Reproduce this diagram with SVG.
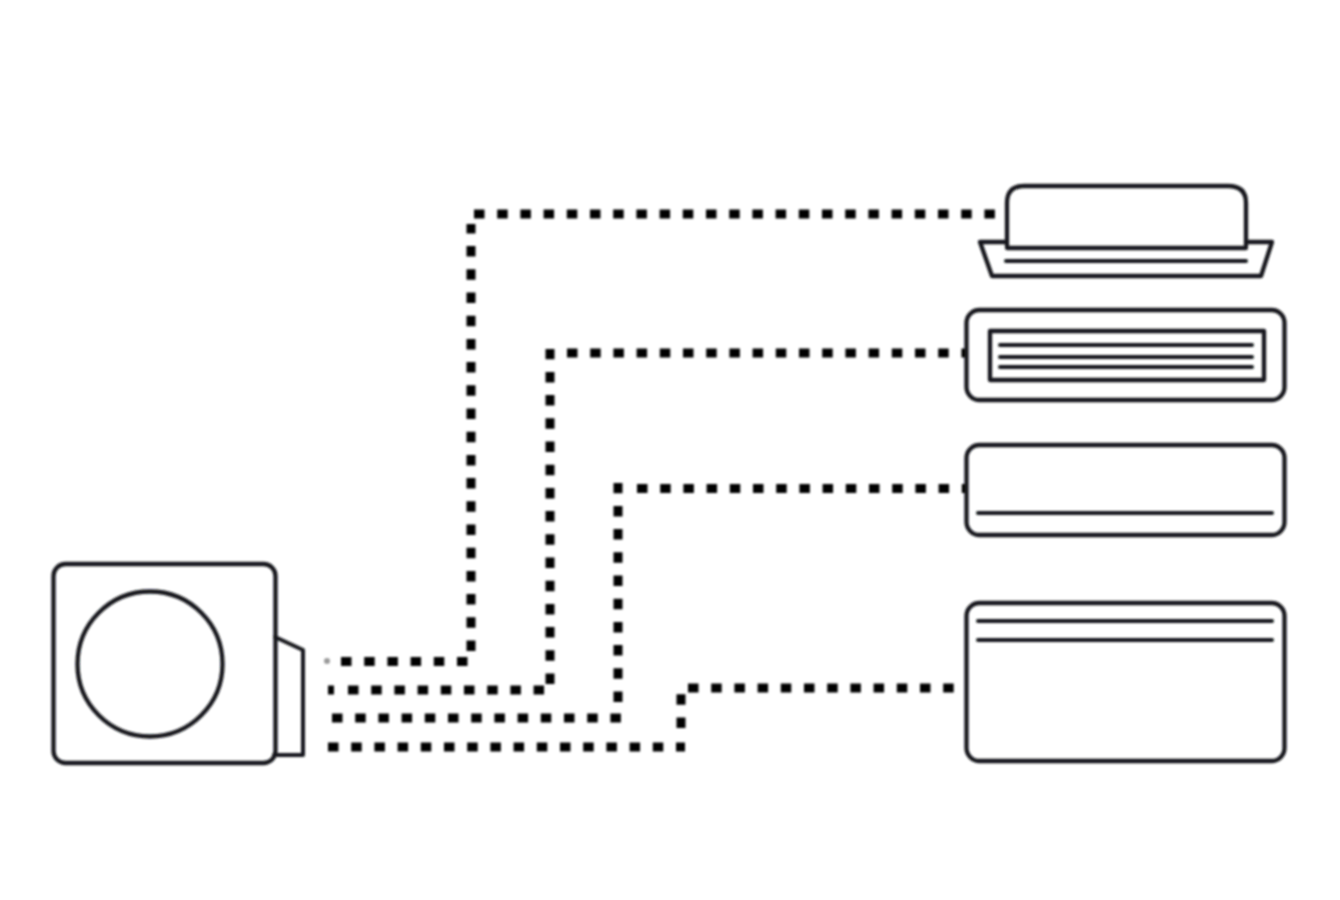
<svg xmlns="http://www.w3.org/2000/svg" width="1340" height="900" viewBox="0 0 1340 900">
<defs>
<filter id="soft" x="0" y="0" width="1340" height="900" filterUnits="userSpaceOnUse"><feGaussianBlur stdDeviation="0.8"/></filter>
</defs>
<style>
.l{fill:none;stroke:#14171b;stroke-width:4.300;stroke-linejoin:round;stroke-linecap:round}
.t{stroke-width:4}
.d{fill:none;stroke:#000;stroke-width:9;stroke-dasharray:10.500 12.700}
</style>
<rect width="1340" height="900" fill="#fff"/>
<g filter="url(#soft)">
<g id="connectors">
<circle cx="327" cy="661" r="3" fill="#999"/>
<path class="d" d="M341 661.500H470M471 651V224M474 214H998"/>
<path class="d" d="M328 690H334M348 690H545M550 684V349M567 353H966"/>
<path class="d" d="M332 718H622M618 702V483M637 488.500H966"/>
<path class="d" d="M328 747H685M681 728V694M688 688H955"/>
</g>
<g id="outdoor-unit">
<rect class="l" x="53.500" y="564" width="222" height="199" rx="12"/>
<circle class="l" cx="150" cy="664" r="72.500"/>
<path class="l t" d="M275 637L303 650V755H274"/>
</g>
<g id="cassette-unit">
<path class="l" d="M1007 246V203Q1007 186 1024 186H1228Q1246 186 1246 203V246"/>
<path class="l" d="M980 242H1007M1246 242H1272L1261 276H992L980 242M1007 248H1246"/>
<path class="l t" d="M1006 261H1246"/>
</g>
<g id="duct-unit">
<rect class="l" x="966.500" y="310" width="318" height="90" rx="13"/>
<rect class="l" x="990" y="331" width="274" height="49"/>
<path class="l t" d="M1000 345H1252M1000 357H1252M1000 367H1252"/>
</g>
<g id="wall-unit">
<rect class="l" x="966.500" y="445" width="318" height="90" rx="13"/>
<path class="l t" d="M978 513H1272"/>
</g>
<g id="console-unit">
<rect class="l" x="966.500" y="603" width="318" height="158" rx="13"/>
<path class="l t" d="M978 621H1272M978 640H1272"/>
</g>
</g>
</svg>
